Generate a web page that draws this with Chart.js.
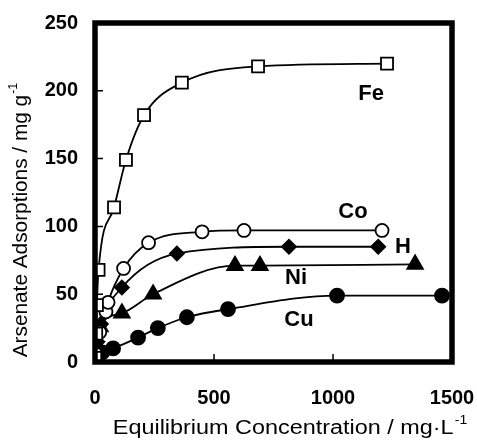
<!DOCTYPE html>
<html>
<head>
<meta charset="utf-8">
<script src="https://cdn.jsdelivr.net/npm/chart.js@4.4.1/dist/chart.umd.min.js"></script>
<style>
  html, body { margin: 0; padding: 0; background: #fff; }
</style>
</head>
<body>
<canvas id="isotherm" width="477" height="443"></canvas>
<script>
// axis ticks
const xTicks = [0, 500, 1000, 1500];
const yTicks = [0, 50, 100, 150, 200, 250];

// equilibrium concentration (mg/L) and adsorbed arsenate (mg/g) per adsorbent
const feX = [1, 5, 8, 15, 80, 130, 206, 365, 685, 1227];
const feY = [3, 21, 42, 68, 114, 149, 182, 206, 218, 220];

const coX = [3, 20, 46, 55, 120, 225, 450, 626, 1206];
const coY = [6, 22, 37, 44, 69, 88, 96, 97, 97];

const hX = [2, 10, 25, 113, 344, 815, 1190];
const hY = [5, 15, 28, 55, 80, 85, 85];

const niX = [2, 8, 21, 113, 244, 588, 693, 1345];
const niY = [4, 12, 26, 36, 50, 71, 71, 72];

const cuX = [1, 5, 15, 30, 76, 181, 264, 386, 559, 1017, 1458];
const cuY = [1, 3, 5, 7, 10, 18, 25, 33, 39, 49, 49];

const seriesNames = ['Fe', 'Co', 'H', 'Ni', 'Cu'];

const pts = (xs, ys) => xs.map((x, i) => ({ x: x, y: ys[i] }));

const FONT = '"Liberation Sans", Arial, sans-serif';

// where each series name is written (data coordinates)
const labelSpots = {
  Fe: [1160, 198],
  Co: [1084, 111],
  H: [1294, 85],
  Ni: [845, 62],
  Cu: [857, 31]
};

function series(name, xs, ys, style, radius, fill) {
  return {
    label: name,
    data: pts(xs, ys),
    showLine: true,
    borderColor: '#000',
    borderWidth: 1.8,
    cubicInterpolationMode: 'monotone',
    pointStyle: style,
    pointRadius: radius,
    pointBackgroundColor: fill,
    pointBorderColor: '#000',
    pointBorderWidth: 1.8
  };
}

// text centred on (x, y) with a trailing superscript, stretched sideways by sx
function supText(ctx, x, y, main, sup, size, sx) {
  ctx.save();
  ctx.translate(x, y);
  ctx.scale(sx, 1);
  ctx.font = size + 'px ' + FONT;
  const w1 = ctx.measureText(main).width;
  ctx.font = Math.round(size * 0.6) + 'px ' + FONT;
  const w2 = ctx.measureText(sup).width;
  const start = -(w1 + w2 + 1) / 2;
  ctx.textAlign = 'left';
  ctx.textBaseline = 'middle';
  ctx.font = size + 'px ' + FONT;
  ctx.fillText(main, start, 0);
  ctx.font = Math.round(size * 0.6) + 'px ' + FONT;
  ctx.fillText(sup, start + w1 + 1, -size * 0.38);
  ctx.restore();
}

const framePlugin = {
  id: 'frame',
  afterDatasetsDraw(chart) {
    const { ctx, chartArea: a, scales } = chart;
    ctx.save();
    ctx.strokeStyle = '#000';
    ctx.lineWidth = 5.5;
    ctx.strokeRect(a.left, a.top, a.right - a.left, a.bottom - a.top);

    // short inward ticks
    ctx.lineWidth = 1.5;
    ctx.beginPath();
    yTicks.slice(1, -1).forEach(v => {
      const py = scales.y.getPixelForValue(v);
      ctx.moveTo(a.left, py);
      ctx.lineTo(a.left + 8, py);
    });
    xTicks.slice(1, -1).forEach(v => {
      const px = scales.x.getPixelForValue(v);
      ctx.moveTo(px, a.bottom);
      ctx.lineTo(px, a.bottom - 8);
    });
    ctx.stroke();

    // series names
    ctx.fillStyle = '#000';
    ctx.font = 'bold 22px ' + FONT;
    ctx.textAlign = 'center';
    ctx.textBaseline = 'middle';
    seriesNames.forEach(n => {
      const [lx, ly] = labelSpots[n];
      ctx.fillText(n, scales.x.getPixelForValue(lx), scales.y.getPixelForValue(ly));
    });

    // axis titles
    supText(ctx, 290, 428, 'Equilibrium Concentration / mg\u00b7L', '-1', 20, 1.17);
    ctx.translate(21, 220);
    ctx.rotate(-Math.PI / 2);
    supText(ctx, 0, 0, 'Arsenate Adsorptions / mg g', '-1', 20, 1.04);
    ctx.restore();
  }
};

new Chart(document.getElementById('isotherm'), {
  type: 'scatter',
  data: {
    datasets: [
      series('Fe', feX, feY, 'rect', 8.5, '#fff'),
      series('Co', coX, coY, 'circle', 6.5, '#fff'),
      series('H', hX, hY, 'rectRot', 7, '#000'),
      series('Ni', niX, niY, 'triangle', 9, '#000'),
      series('Cu', cuX, cuY, 'circle', 7, '#000')
    ]
  },
  options: {
    responsive: false,
    animation: false,
    layout: { padding: { top: 23, right: 25, left: 0, bottom: 0 } },
    plugins: {
      legend: { display: false },
      tooltip: { enabled: false }
    },
    scales: {
      x: {
        type: 'linear',
        min: 0,
        max: 1500,
        afterBuildTicks: s => { s.ticks = xTicks.map(v => ({ value: v })); },
        afterFit: s => { s.height = 81; s.paddingLeft = 0; s.paddingRight = 0; },
        ticks: {
          color: '#000',
          padding: 24,
          maxRotation: 0,
          callback: v => String(v),
          font: { family: FONT, size: 20, weight: 'bold' }
        },
        grid: { display: false, drawTicks: false },
        border: { display: false }
      },
      y: {
        type: 'linear',
        min: 0,
        max: 250,
        afterBuildTicks: s => { s.ticks = yTicks.map(v => ({ value: v })); },
        afterFit: s => { s.width = 95; s.paddingTop = 0; s.paddingBottom = 0; },
        ticks: {
          color: '#000',
          padding: 17,
          callback: v => String(v),
          font: { family: FONT, size: 20, weight: 'bold' }
        },
        grid: { display: false, drawTicks: false },
        border: { display: false }
      }
    }
  },
  plugins: [framePlugin]
});
</script>
</body>
</html>
